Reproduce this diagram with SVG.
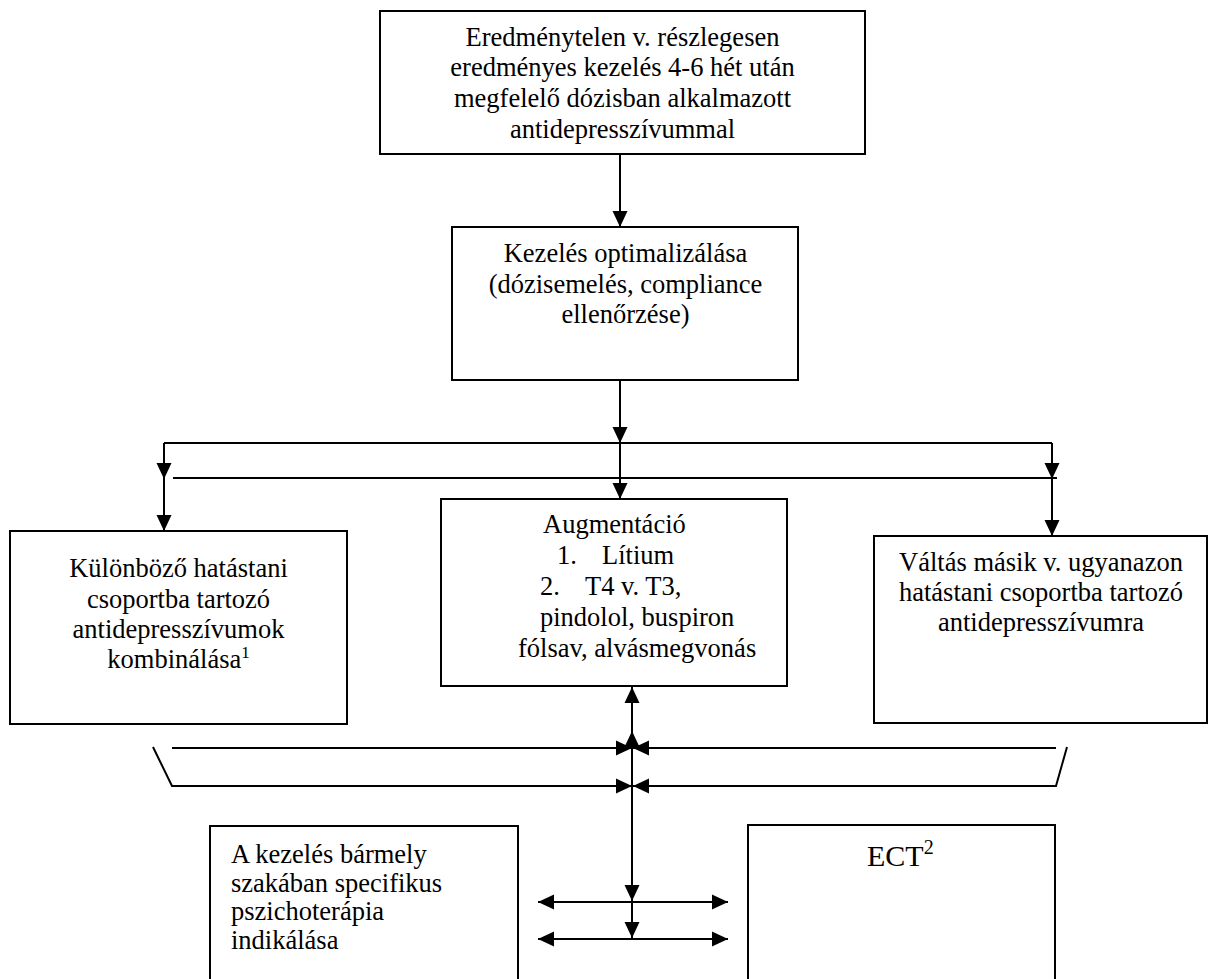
<svg xmlns="http://www.w3.org/2000/svg" width="1209" height="979" viewBox="0 0 1209 979">
<style>
.box{fill:#fff;stroke:#000;stroke-width:2}
.t{font-family:"Liberation Serif","Times New Roman",serif;font-size:26.5px;fill:#000}
.c{text-anchor:middle}
.sup{font-size:17px}
.ln{fill:none;stroke:#000;stroke-width:2}
.ar{marker-end:url(#ah)}
</style>
<defs>
<marker id="ah" markerUnits="userSpaceOnUse" markerWidth="17" markerHeight="17" refX="16" refY="8" orient="auto">
<path d="M0,0.5 L16,8 L0,15.5 z" fill="#000"/>
</marker>
</defs>
<rect width="1209" height="979" fill="#fff"/>
<g id="connectors">
<line class="ln ar" x1="620" y1="155" x2="620" y2="227"/>
<line class="ln ar" x1="620" y1="380" x2="620" y2="443"/>
<line class="ln ar" x1="620" y1="443" x2="620" y2="499"/>
<line class="ln" x1="164" y1="443" x2="1052" y2="443"/>
<line class="ln ar" x1="164" y1="443" x2="164" y2="479"/>
<line class="ln ar" x1="164" y1="479" x2="164" y2="531"/>
<line class="ln ar" x1="1052" y1="443" x2="1052" y2="479"/>
<line class="ln ar" x1="1052" y1="479" x2="1052" y2="536"/>
<line class="ln" x1="173" y1="478" x2="1057" y2="478"/>
<line class="ln ar" x1="632" y1="749" x2="632" y2="731"/>
<line class="ln ar" x1="632" y1="731" x2="632" y2="687"/>
<line class="ln ar" x1="632" y1="749" x2="632" y2="901"/>
<line class="ln ar" x1="632" y1="901" x2="632" y2="938"/>
<line class="ln ar" x1="172" y1="748" x2="632" y2="748"/>
<line class="ln ar" x1="1056" y1="748" x2="633" y2="748"/>
<polyline class="ln ar" points="153,747 172,786 632,786"/>
<polyline class="ln ar" points="1067,747 1056,786 633,786"/>
<line class="ln ar" x1="632" y1="902" x2="538" y2="902"/>
<line class="ln ar" x1="632" y1="902" x2="728" y2="902"/>
<line class="ln ar" x1="632" y1="939" x2="538" y2="939"/>
<line class="ln ar" x1="632" y1="939" x2="728" y2="939"/>
</g>
<g id="node-start">
<rect class="box" x="380" y="11" width="485" height="143"/>
<text class="t c" x="622.5" y="45.5">Eredménytelen v. részlegesen</text>
<text class="t c" x="622.5" y="76.2">eredményes kezelés 4-6 hét után</text>
<text class="t c" x="622.5" y="106.9">megfelelő dózisban alkalmazott</text>
<text class="t c" x="622.5" y="137.6">antidepresszívummal</text>
</g>
<g id="node-optimize">
<rect class="box" x="452" y="227" width="346" height="153"/>
<text class="t c" x="625.5" y="262">Kezelés optimalizálása</text>
<text class="t c" x="625.5" y="292.5">(dózisemelés, compliance</text>
<text class="t c" x="625.5" y="323">ellenőrzése)</text>
</g>
<g id="node-combine">
<rect class="box" x="10" y="531" width="337" height="193"/>
<text class="t c" x="178.5" y="577">Különböző hatástani</text>
<text class="t c" x="178.5" y="607.5">csoportba tartozó</text>
<text class="t c" x="178.5" y="638">antidepresszívumok</text>
<text class="t c" x="178.5" y="668">kombinálása<tspan class="sup" dy="-10">1</tspan></text>
</g>
<g id="node-augment">
<rect class="box" x="441" y="499" width="346" height="187"/>
<text class="t" x="543" y="533">Augmentáció</text>
<text class="t" x="557" y="564">1.</text>
<text class="t" x="602" y="564">Lítium</text>
<text class="t" x="540" y="595">2.</text>
<text class="t" x="585" y="595">T4 v. T3,</text>
<text class="t" x="540" y="626">pindolol, buspiron</text>
<text class="t" x="518" y="657">fólsav, alvásmegvonás</text>
</g>
<g id="node-switch">
<rect class="box" x="874" y="536" width="333" height="187"/>
<text class="t c" x="1041" y="571">Váltás másik v. ugyanazon</text>
<text class="t c" x="1041" y="601">hatástani csoportba tartozó</text>
<text class="t c" x="1041" y="631">antidepresszívumra</text>
</g>
<g id="node-psycho">
<rect class="box" x="210" y="826" width="308" height="170"/>
<text class="t" x="231" y="863">A kezelés bármely</text>
<text class="t" x="231" y="891.5">szakában specifikus</text>
<text class="t" x="231" y="920">pszichoterápia</text>
<text class="t" x="231" y="948.5">indikálása</text>
</g>
<g id="node-ect">
<rect class="box" x="748" y="825" width="307" height="170"/>
<text class="t" x="867" y="866" style="font-size:30px">ECT<tspan style="font-size:20px" dy="-12">2</tspan></text>
</g>
</svg>
